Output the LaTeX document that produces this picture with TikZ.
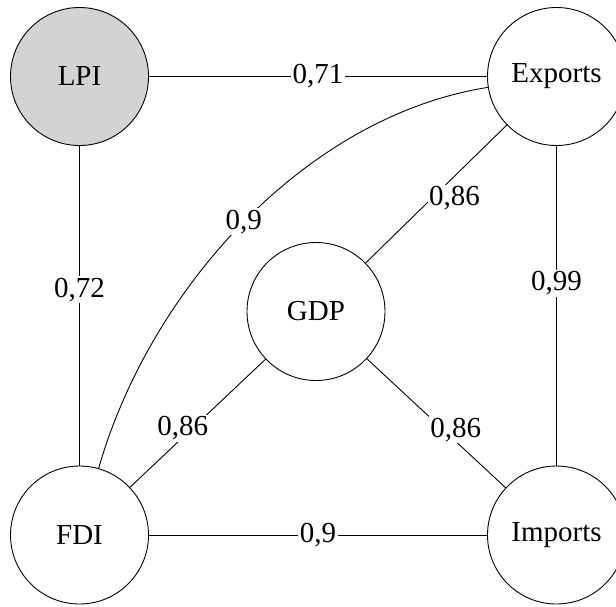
\documentclass[tikz,border=0pt]{standalone}
\usepackage{fontspec}
\setmainfont{Liberation Serif}
\definecolor{lpigray}{RGB}{211,211,211}

\begin{document}
\begin{tikzpicture}[x=1pt,y=-1pt,
    var/.style={circle,draw=black,line width=0.9pt,minimum size=138pt,
      inner sep=0pt,font=\fontsize{29}{34}\selectfont},
    corr/.style={fill=white,inner sep=1.5pt,font=\fontsize{29}{34}\selectfont},
    link/.style={line width=0.9pt}]
	   \path [fill=white,use as bounding box] (0,0) rectangle (616,606);
	   \node (lpi) at (79.5,76.5) [var,fill=lpigray] {LPI};
	   \node (exp) at (556.5,76.5) [var] {Exports};
	   \node (fdi) at (79.5,535) [var] {FDI};
	   \node (imp) at (556.5,535) [var] {Imports};
	   \node (gdp) at (316,311.5) [var] {GDP};
	   \draw [link]
	     (lpi) -- node[corr] {0,71} (exp)
	     (lpi) -- node[corr,pos=0.45] {0,72} (fdi)
	     (exp) -- node[corr,pos=0.43] {0,99} (imp)
	     (fdi) -- node[corr] {0,9} (imp);
	   \draw [link]
	     (gdp) -- node[corr,pos=0.47,xshift=22.5pt] {0,86} (exp)
	     (gdp) -- node[corr,pos=0.54,xshift=-9.5pt] {0,86} (fdi)
	     (gdp) -- node[corr,pos=0.55,xshift=12.5pt] {0,86} (imp);
	   \draw [link]
	     (fdi) to[out=74,in=189,looseness=0.87] node[corr] {0,9} (exp);
\end{tikzpicture}
\end{document}
